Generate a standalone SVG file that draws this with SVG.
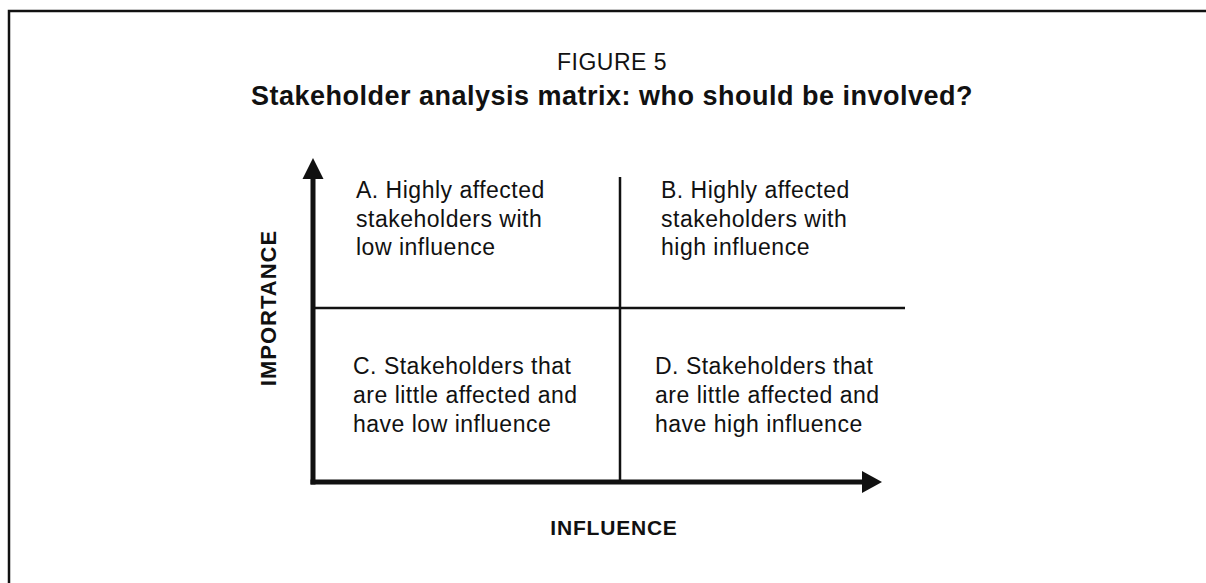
<svg xmlns="http://www.w3.org/2000/svg" width="1206" height="583" viewBox="0 0 1206 583">
<style>
.q{font-family:"Liberation Sans",Arial,sans-serif;font-size:23px;letter-spacing:0.5px;fill:#111}
.b{font-family:"Liberation Sans",Arial,sans-serif;font-weight:bold;fill:#111}
.ax{stroke:#111;stroke-width:5;fill:none}
.ln{stroke:#111;stroke-width:2.5;fill:none}
.ah{fill:#111}
</style>
<rect width="1206" height="583" fill="#fff"/>
<path d="M9,583 V11 H1206" fill="none" stroke="#111" stroke-width="2.5"/>
<g id="title">
<text x="612" y="70" text-anchor="middle" style="font-family:'Liberation Sans',Arial,sans-serif;font-size:23px;letter-spacing:0.5px;fill:#111">FIGURE 5</text>
<text class="b" x="612" y="105" text-anchor="middle" style="font-size:27px;letter-spacing:0.5px">Stakeholder analysis matrix: who should be involved?</text>
</g>
<g id="connectors">
<path class="ax" d="M313,484.5 V176"/>
<polygon class="ah" points="313,158 302.5,179 323.5,179"/>
<path class="ax" d="M310.5,482 H865"/>
<polygon class="ah" points="882,482 862,471 862,493"/>
<path class="ln" d="M313,308 H905"/>
<path class="ln" d="M620,177 V482"/>
</g>
<g id="axis-importance">
<text class="b" transform="translate(276,308) rotate(-90)" text-anchor="middle" style="font-size:22px;letter-spacing:1px">IMPORTANCE</text>
</g>
<g id="axis-influence">
<text class="b" x="614" y="535" text-anchor="middle" style="font-size:21px;letter-spacing:0.8px">INFLUENCE</text>
</g>
<g id="quadrant-a">
<text class="q" x="356" y="198">A. Highly affected</text>
<text class="q" x="356" y="226.5">stakeholders with</text>
<text class="q" x="356" y="255">low influence</text>
</g>
<g id="quadrant-b">
<text class="q" x="661" y="198">B. Highly affected</text>
<text class="q" x="661" y="226.5">stakeholders with</text>
<text class="q" x="661" y="255">high influence</text>
</g>
<g id="quadrant-c">
<text class="q" x="353" y="374">C. Stakeholders that</text>
<text class="q" x="353" y="403">are little affected and</text>
<text class="q" x="353" y="432">have low influence</text>
</g>
<g id="quadrant-d">
<text class="q" x="655" y="374">D. Stakeholders that</text>
<text class="q" x="655" y="403">are little affected and</text>
<text class="q" x="655" y="432">have high influence</text>
</g>
</svg>
